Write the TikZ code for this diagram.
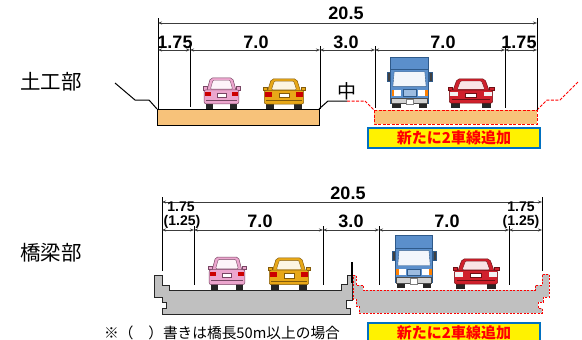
\documentclass[tikz,border=0pt]{standalone}
\usepackage{fontspec}
\setmainfont{Liberation Sans}
\newfontfamily\jp{Noto Sans CJK JP}
\usetikzlibrary{arrows.meta}

\definecolor{earthfill}{RGB}{247,194,122}
\definecolor{deckgray}{RGB}{192,192,192}
\definecolor{tagblue}{RGB}{0,112,192}
\definecolor{dimgray}{RGB}{60,60,60}
\definecolor{truckblue}{RGB}{91,143,203}
\definecolor{truckedge}{RGB}{47,90,138}
\definecolor{pinkbody}{RGB}{236,166,206}
\definecolor{pinkedge}{RGB}{120,70,100}
\definecolor{goldbody}{RGB}{232,168,24}
\definecolor{goldedge}{RGB}{130,90,10}
\definecolor{redbody}{RGB}{208,32,44}
\definecolor{rededge}{RGB}{110,15,20}

% car seen from behind (or front): x, y of top-left, width, height, body, outline, lamp colour
\newcommand{\roadcar}[7]{%
  \begin{scope}[shift={(#1,#2)}, x=#3pt, y=-#4pt]
    \fill[black!85] (0.07,0.74) rectangle (0.27,1);
    \fill[black!85] (0.73,0.74) rectangle (0.93,1);
    \filldraw[fill=#5, draw=#6, line width=0.4pt] (0,0.3) rectangle (0.1,0.4);
    \filldraw[fill=#5, draw=#6, line width=0.4pt] (0.9,0.3) rectangle (1,0.4);
    \filldraw[fill=#5, draw=#6, line width=0.5pt, rounded corners=2pt]
      (0.1,0.45) -- (0.2,0.03) -- (0.8,0.03) -- (0.9,0.45) -- cycle;
    \filldraw[fill=white!88!#5, draw=#6, line width=0.4pt, rounded corners=1pt]
      (0.2,0.38) -- (0.27,0.1) -- (0.73,0.1) -- (0.8,0.38) -- cycle;
    \filldraw[fill=#5, draw=#6, line width=0.5pt, rounded corners=2pt]
      (0.03,0.4) rectangle (0.97,0.84);
    \fill[#7] (0.05,0.46) rectangle (0.21,0.6);
    \fill[#7] (0.79,0.46) rectangle (0.95,0.6);
    \filldraw[fill=white, draw=#6, line width=0.3pt] (0.38,0.5) rectangle (0.62,0.63);
    \draw[#6, line width=0.4pt] (0.08,0.72) -- (0.92,0.72);
  \end{scope}}

% small truck seen from the front: x, y of top-left, width, height
\newcommand{\truckfront}[4]{%
  \begin{scope}[shift={(#1,#2)}, x=#3pt, y=-#4pt]
    \fill[black!85] (0.12,0.84) rectangle (0.3,1);
    \fill[black!85] (0.7,0.84) rectangle (0.88,1);
    \filldraw[fill=truckblue, draw=truckedge, line width=0.5pt] (0.08,0) rectangle (0.92,0.9);
    \draw[truckedge, line width=0.4pt] (0.08,0.24) -- (0.92,0.24);
    \filldraw[fill=white!92!truckblue, draw=truckedge, line width=0.4pt]
      (0.16,0.29) -- (0.84,0.29) -- (0.87,0.58) -- (0.13,0.58) -- cycle;
    \filldraw[fill=gray!50!black, draw=truckedge, line width=0.3pt] (0,0.3) rectangle (0.07,0.48);
    \filldraw[fill=gray!50!black, draw=truckedge, line width=0.3pt] (0.93,0.3) rectangle (1,0.48);
    \fill[orange] (0.1,0.65) rectangle (0.15,0.76);
    \fill[white] (0.15,0.65) rectangle (0.31,0.76);
    \fill[orange] (0.85,0.65) rectangle (0.9,0.76);
    \fill[white] (0.69,0.65) rectangle (0.85,0.76);
    \filldraw[fill=truckblue!60!white, draw=truckedge, line width=0.3pt] (0.35,0.64) rectangle (0.65,0.76);
    \filldraw[fill=gray!35, draw=gray!60!black, line width=0.3pt] (0.1,0.8) rectangle (0.9,0.9);
    \filldraw[fill=white, draw=gray, line width=0.3pt] (0.42,0.82) rectangle (0.58,0.93);
  \end{scope}}

\begin{document}
\begin{tikzpicture}[x=1pt, y=-1pt,
  dimline/.style={draw=dimgray, line width=0.6pt,
    {Stealth[length=4pt,width=3pt]}-{Stealth[length=4pt,width=3pt]}},
  extline/.style={draw=black, line width=0.8pt},
  dimtxt/.style={font=\bfseries\fontsize{18}{18}\selectfont, inner sep=0pt},
  smalltxt/.style={font=\bfseries\fontsize{14}{14}\selectfont, inner sep=0pt},
  parttxt/.style={font=\jp\fontsize{20.5}{21}\selectfont, inner sep=0pt},
  earth/.style={fill=earthfill, draw=black, line width=0.9pt},
  newearth/.style={fill=earthfill, draw=red, dashed, dash pattern=on 3pt off 1.5pt, line width=1pt},
  deck/.style={fill=deckgray, draw=black!85, line width=0.8pt},
  newdeck/.style={fill=deckgray, draw=red, dash pattern=on 2pt off 1.5pt, line width=0.9pt},
  slope/.style={draw=black, line width=1pt},
  newslope/.style={draw=red, dash pattern=on 3pt off 1.5pt, line width=1pt},
  tagbox/.style={fill=yellow, draw=tagblue, line width=1.8pt, text=red,
    font=\jp\bfseries\fontsize{15}{15}\selectfont,
    minimum width=172pt, minimum height=20pt, inner sep=0pt}]

\useasboundingbox (0,0) rectangle (582,340);
\clip (0,0) rectangle (582,340);
\fill[white] (0,0) rectangle (582,340);

%% ---------------- earthwork section ----------------
\node[parttxt] (earthlabel) at (51,82) {土工部};

% existing carriageway and side slopes
\draw[slope] (115,83) -- (135,100) -- (149,100) -- (157,109);
\draw[slope] (319,109) -- (328,101) -- (347,101);
\draw[earth] (157,109) rectangle (319,125);
\node[font=\jp\fontsize{19}{19}\selectfont, inner sep=0pt] (median) at (347,91) {中};

% widening part
\draw[newslope] (347,101) -- (365,101) -- (374,110);
\draw[newslope] (537,110) -- (547,100) -- (560,100) -- (578,82);
\draw[newearth] (374,110) rectangle (537,124);
\node[tagbox] (newtop) at (454,138) {新たに2車線追加};

% dimensions
\coordinate (tL) at (158,23);
\coordinate (tR) at (537,23);
\foreach \n/\x in {a/158,b/190,c/320,d/375,e/505,f/537}
  \coordinate (t\n) at (\x,50);
\draw[extline] (158,18) -- (158,109);
\draw[extline] (537,18) -- (537,110);
\draw[extline] (190,46) -- (190,107);
\draw[extline] (320,46) -- (320,109);
\draw[extline] (375,46) -- (375,108);
\draw[extline] (505,46) -- (505,108);
\draw[dimline] (tL) -- (tR);
\draw[dimline] (ta) -- (tb);
\draw[dimline] (tb) -- (tc);
\draw[dimline] (tc) -- (td);
\draw[dimline] (td) -- (te);
\draw[dimline] (te) -- (tf);
\node[dimtxt] (tw) at (346,13) {20.5};
\node[dimtxt] (ts1) at (175,42) {1.75};
\node[dimtxt] (tl1) at (256,42) {7.0};
\node[dimtxt] (tm) at (346,42) {3.0};
\node[dimtxt] (tl2) at (443,42) {7.0};
\node[dimtxt] (ts2) at (519,42) {1.75};

% vehicles
\roadcar{203}{77}{37}{32}{pinkbody}{pinkedge}{red!80!black}
\roadcar{263}{78}{42}{31}{goldbody}{goldedge}{red!80!black}
\truckfront{387}{57}{45}{51}
\roadcar{448}{78}{46}{30}{redbody}{rededge}{white!90!gray}

%% ---------------- bridge section ----------------
\node[parttxt] (bridgelabel) at (51,253) {橋梁部};

% existing deck
\draw[deck] (154,275) -- (162,275) -- (162,285) -- (169,285) -- (169,290) -- (341,290)
  -- (341,284) -- (347,284) -- (347,275) -- (352,275) -- (352,300) -- (346,300)
  -- (346,308) -- (350,308) -- (350,314) -- (162,314) -- (162,308) -- (166,308)
  -- (166,302) -- (162,302) -- (162,297) -- (154,297) -- cycle;
% new deck
\draw[newdeck] (353,275) -- (356,275) -- (356,285) -- (363,285) -- (363,290) -- (535,290)
  -- (535,285) -- (542,285) -- (542,274) -- (549,274) -- (549,297) -- (543,297)
  -- (543,302) -- (538,302) -- (538,308) -- (542,308) -- (542,313) -- (359,313)
  -- (359,306) -- (356,306) -- (356,299) -- (353,299) -- cycle;
\draw[line width=1.4pt] (352,262) -- (352,283);

% dimensions
\coordinate (bL) at (162,202);
\coordinate (bR) at (542,202);
\foreach \n/\x in {a/162,b/194,c/323,d/379,e/509,f/542}
  \coordinate (b\n) at (\x,230);
\draw[extline] (162,197) -- (162,271);
\draw[extline] (542,197) -- (542,271);
\draw[extline] (194,226) -- (194,285);
\draw[extline] (323,226) -- (323,285);
\draw[extline] (379,226) -- (379,285);
\draw[extline] (509,226) -- (509,285);
\draw[dimline] (bL) -- (bR);
\draw[dimline] (ba) -- (bb);
\draw[dimline] (bb) -- (bc);
\draw[dimline] (bc) -- (bd);
\draw[dimline] (bd) -- (be);
\draw[dimline] (be) -- (bf);
\node[dimtxt] (bw) at (348,193) {20.5};
\node[smalltxt] (bs1) at (181,206.5) {1.75};
\node[smalltxt] (bs1b) at (182,222) {(1.25)};
\node[dimtxt] (bl1) at (260,221) {7.0};
\node[dimtxt] (bm) at (351,221) {3.0};
\node[dimtxt] (bl2) at (447,221) {7.0};
\node[smalltxt] (bs2) at (521,206.5) {1.75};
\node[smalltxt] (bs2b) at (521,222) {(1.25)};

% vehicles
\roadcar{208}{256}{38}{34}{pinkbody}{pinkedge}{red!80!black}
\roadcar{268}{257}{42}{33}{goldbody}{goldedge}{red!80!black}
\truckfront{392}{235}{44}{53}
\roadcar{453}{258}{46}{31}{redbody}{rededge}{white!90!gray}

\node[font=\jp\fontsize{14.7}{15}\selectfont, inner sep=0pt, anchor=west] (note) at (104,333)
  {※（　）書きは橋長50m以上の場合};
\node[tagbox] (newbot) at (454,333) {新たに2車線追加};
\end{tikzpicture}
\end{document}
